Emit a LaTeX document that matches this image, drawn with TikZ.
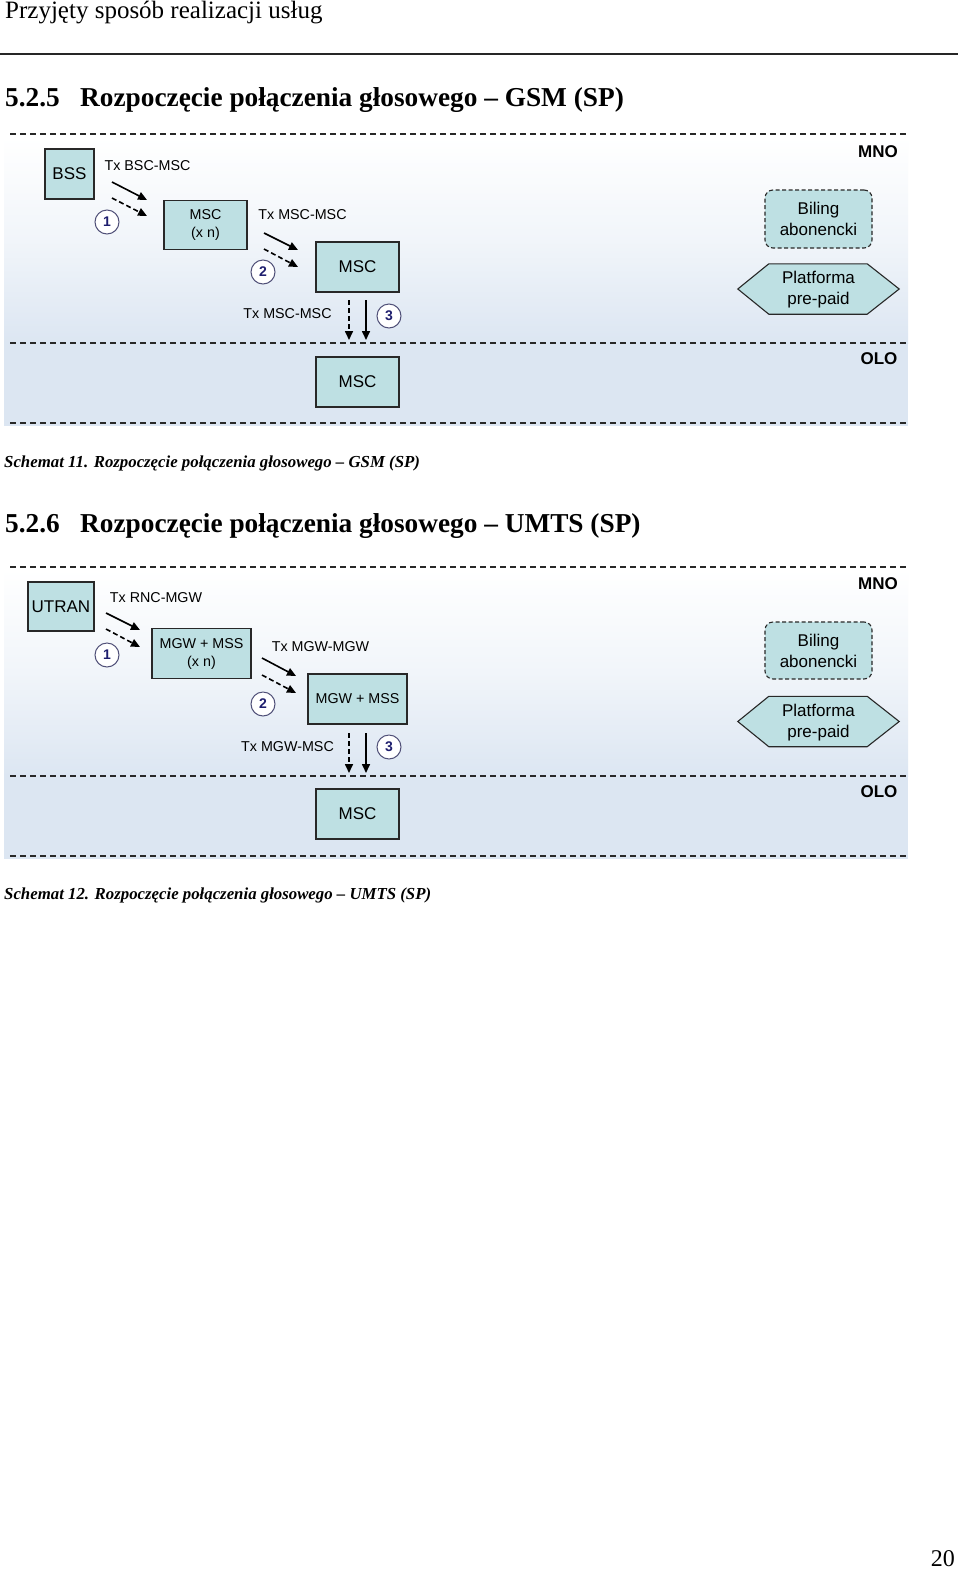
\documentclass[tikz,border=0pt]{standalone}
\usepackage{fontspec}
\setmainfont{Liberation Serif}
\newfontfamily\arial{Liberation Sans}
\usetikzlibrary{arrows.meta}
\definecolor{boxfill}{RGB}{190,224,227}
\definecolor{boxline}{RGB}{40,40,40}
\definecolor{bgblue}{RGB}{220,230,242}
\definecolor{navy}{RGB}{30,30,110}
\definecolor{circline}{RGB}{80,80,120}
\definecolor{dashgray}{RGB}{40,40,40}
\tikzset{
  box/.style={draw=boxline, fill=boxfill, line width=1.1pt, inner sep=0pt, align=center, text=black},
  bigtxt/.style={font=\arial\fontsize{17}{21}\selectfont},
  smalltxt/.style={font=\arial\fontsize{14.3}{18}\selectfont},
  numc/.style={circle, draw=circline, fill=white, line width=1pt, minimum size=24pt, inner sep=0pt, text=navy, font=\arial\bfseries\fontsize{14}{14}\selectfont},
  conn/.style={line width=1.6pt, -{Triangle[length=9pt,width=8pt]}},
  dconn/.style={conn, dash pattern=on 5pt off 3pt},
  sepline/.style={dashgray, line width=1.2pt, dash pattern=on 6pt off 4pt},
  lbl/.style={inner sep=0pt, font=\arial\fontsize{14.3}{18}\selectfont},
  zone/.style={inner sep=0pt, font=\arial\bfseries\fontsize{17}{20}\selectfont},
}
\begin{document}
\begin{tikzpicture}[x=1pt,y=-1pt]
\useasboundingbox (0,0) rectangle (960,1569);
\fill[white] (0,0) rectangle (960,1569);
% header
\node[anchor=base west, inner sep=0pt, font=\fontsize{25}{28}\selectfont] (hdr) at (5,18) {Przyjęty sposób realizacji usług};
\draw[line width=2pt, black!85] (0,54) -- (958,54);
% title 1
\node[anchor=base west, inner sep=0pt, font=\bfseries\fontsize{27.3}{30}\selectfont] (t1n) at (5,106) {5.2.5};
\node[anchor=base west, inner sep=0pt, font=\bfseries\fontsize{27.3}{30}\selectfont] (t1) at (80,106) {Rozpoczęcie połączenia głosowego – GSM (SP)};

% ===== Diagram 1 =====
\shade[top color=white, bottom color=bgblue, middle color=white!60!bgblue] (4,137) rectangle (908,343);
\fill[bgblue] (4,343) rectangle (908,426);
\draw[sepline] (10,134) -- (907,134);
\draw[sepline] (10,343) -- (907,343);
\draw[sepline] (10,423) -- (907,423);

\node[box, bigtxt, minimum width=49pt, minimum height=50pt] (bss) at (69.5,174) {BSS};
\node[box, smalltxt, minimum width=83pt, minimum height=49pt] (mscn) at (205.5,225) {MSC\\(x n)};
\node[box, bigtxt, minimum width=83pt, minimum height=50pt] (msc2) at (357.5,267) {MSC};
\node[box, bigtxt, minimum width=83pt, minimum height=50pt] (msc3) at (357.5,382) {MSC};
\node[box, bigtxt, dash pattern=on 4pt off 2.5pt, rounded corners=8pt, minimum width=107pt, minimum height=58pt] (bil1) at (818.5,219) {Biling\\abonencki};
\node[inner sep=0pt, align=center, bigtxt, minimum width=161pt, minimum height=50pt] (pp1) at (818.5,289) {};
\draw[draw=boxline, fill=boxfill, line width=1.1pt] (pp1.west) -- ([xshift=31pt]pp1.north west) -- ([xshift=-32pt]pp1.north east) -- (pp1.east) -- ([xshift=-32pt]pp1.south east) -- ([xshift=31pt]pp1.south west) -- cycle;
\node[inner sep=0pt, align=center, bigtxt, text=black] (pp1t) at (818.5,290) {Platforma\\pre-paid};
\node[zone] (mno1) at (878,152) {MNO};
\node[zone] (olo1) at (879,359) {OLO};

\node[lbl] (l11) at (147.5,166) {Tx BSC-MSC};
\node[lbl] (l12) at (302.5,215) {Tx MSC-MSC};
\node[lbl] (l13) at (287.5,314) {Tx MSC-MSC};

\node[numc] (c11) at (107,222) {1};
\node[numc] (c12) at (263,272) {2};
\node[numc] (c13) at (389,316) {3};

\coordinate (a1s) at (112,182); \coordinate (a1e) at (147,200);
\coordinate (b1s) at (112,198); \coordinate (b1e) at (147,216);
\coordinate (a2s) at (264,233); \coordinate (a2e) at (298,250);
\coordinate (b2s) at (264,249); \coordinate (b2e) at (298,267);
\coordinate (v1s) at (366,300); \coordinate (v1e) at (366,340);
\coordinate (w1s) at (349,300); \coordinate (w1e) at (349,340);
\draw[conn] (a1s) -- (a1e);
\draw[dconn] (b1s) -- (b1e);
\draw[conn] (a2s) -- (a2e);
\draw[dconn] (b2s) -- (b2e);
\draw[conn] (v1s) -- (v1e);
\draw[dconn] (w1s) -- (w1e);

\node[anchor=base west, inner sep=0pt, font=\bfseries\itshape\fontsize{16.8}{18}\selectfont] (cap1) at (4,467) {Schemat 11. Rozpoczęcie połączenia głosowego – GSM (SP)};

% title 2
\node[anchor=base west, inner sep=0pt, font=\bfseries\fontsize{27.3}{30}\selectfont] (t2n) at (5,532) {5.2.6};
\node[anchor=base west, inner sep=0pt, font=\bfseries\fontsize{27.3}{30}\selectfont] (t2) at (80,532) {Rozpoczęcie połączenia głosowego – UMTS (SP)};

% ===== Diagram 2 =====
\shade[top color=white, bottom color=bgblue, middle color=white!60!bgblue] (4,569) rectangle (908,776);
\fill[bgblue] (4,776) rectangle (908,859);
\draw[sepline] (10,567) -- (907,567);
\draw[sepline] (10,776) -- (907,776);
\draw[sepline] (10,856) -- (907,856);

\node[box, bigtxt, minimum width=66pt, minimum height=49pt] (utran) at (61,606.5) {UTRAN};
\node[box, smalltxt, minimum width=99pt, minimum height=50pt] (mgwn) at (201.5,653.5) {MGW + MSS\\(x n)};
\node[box, smalltxt, minimum width=99pt, minimum height=50pt] (mgw2) at (357.5,699) {MGW + MSS};
\node[box, bigtxt, minimum width=83pt, minimum height=50pt] (msc4) at (357.5,814) {MSC};
\node[box, bigtxt, dash pattern=on 4pt off 2.5pt, rounded corners=8pt, minimum width=107pt, minimum height=57pt] (bil2) at (818.5,650.5) {Biling\\abonencki};
\node[inner sep=0pt, align=center, bigtxt, minimum width=161pt, minimum height=50pt] (pp2) at (818.5,721.5) {};
\draw[draw=boxline, fill=boxfill, line width=1.1pt] (pp2.west) -- ([xshift=31pt]pp2.north west) -- ([xshift=-32pt]pp2.north east) -- (pp2.east) -- ([xshift=-32pt]pp2.south east) -- ([xshift=31pt]pp2.south west) -- cycle;
\node[inner sep=0pt, align=center, bigtxt, text=black] (pp2t) at (818.5,722.5) {Platforma\\pre-paid};
\node[zone] (mno2) at (878,584) {MNO};
\node[zone] (olo2) at (879,792) {OLO};

\node[lbl] (l21) at (156,598) {Tx RNC-MGW};
\node[lbl] (l22) at (320.5,647) {Tx MGW-MGW};
\node[lbl] (l23) at (287.5,747) {Tx MGW-MSC};

\node[numc] (c21) at (107,655) {1};
\node[numc] (c22) at (263,704) {2};
\node[numc] (c23) at (389,747) {3};

\coordinate (a3s) at (106,613); \coordinate (a3e) at (140,630);
\coordinate (b3s) at (106,629); \coordinate (b3e) at (140,647);
\coordinate (a4s) at (262,658); \coordinate (a4e) at (296,676);
\coordinate (b4s) at (262,675); \coordinate (b4e) at (296,693);
\coordinate (v2s) at (366,733); \coordinate (v2e) at (366,773);
\coordinate (w2s) at (349,733); \coordinate (w2e) at (349,773);
\draw[conn] (a3s) -- (a3e);
\draw[dconn] (b3s) -- (b3e);
\draw[conn] (a4s) -- (a4e);
\draw[dconn] (b4s) -- (b4e);
\draw[conn] (v2s) -- (v2e);
\draw[dconn] (w2s) -- (w2e);

\node[anchor=base west, inner sep=0pt, font=\bfseries\itshape\fontsize{16.8}{18}\selectfont] (cap2) at (4,899) {Schemat 12. Rozpoczęcie połączenia głosowego – UMTS (SP)};

\node[anchor=base east, inner sep=0pt, font=\fontsize{24}{26}\selectfont] (pg) at (955,1566) {20};
\end{tikzpicture}
\end{document}
